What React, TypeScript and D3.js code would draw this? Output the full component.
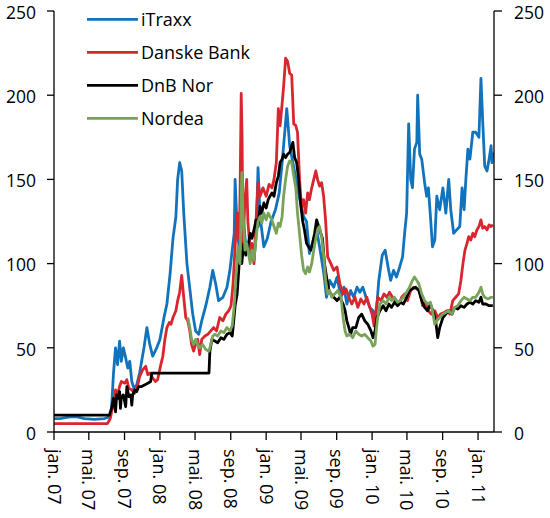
import React from 'react';
import * as d3 from 'd3';

type Point = [string, number];

const seriesNames = ['iTraxx', 'Danske Bank', 'DnB Nor', 'Nordea'];
const seriesColors = ['#1273bd', '#d9262e', '#000000', '#7aa35a'];

const itraxx: Point[] = [
  ['2007-01-01', 8], ['2007-01-21', 8], ['2007-02-25', 9], ['2007-03-22', 9], ['2007-04-16', 8],
  ['2007-05-20', 7.5], ['2007-06-24', 8], ['2007-07-11', 9], ['2007-07-18', 13], ['2007-07-25', 35],
  ['2007-08-01', 50], ['2007-08-08', 40], ['2007-08-15', 54], ['2007-08-21', 42], ['2007-08-28', 50],
  ['2007-09-05', 44], ['2007-09-12', 38], ['2007-09-19', 42], ['2007-09-26', 30], ['2007-10-03', 26],
  ['2007-10-13', 28], ['2007-10-23', 35], ['2007-11-07', 50], ['2007-11-17', 62], ['2007-11-27', 52],
  ['2007-12-07', 45], ['2007-12-21', 50], ['2008-01-01', 55], ['2008-01-15', 68], ['2008-01-25', 76],
  ['2008-02-05', 94], ['2008-02-15', 115], ['2008-02-25', 128], ['2008-03-02', 150], ['2008-03-09', 160],
  ['2008-03-16', 155], ['2008-03-23', 130], ['2008-04-03', 100], ['2008-04-13', 85], ['2008-04-23', 70],
  ['2008-05-03', 60], ['2008-05-14', 58], ['2008-05-24', 66], ['2008-06-07', 75], ['2008-06-21', 86],
  ['2008-07-01', 96], ['2008-07-11', 88], ['2008-07-21', 78], ['2008-08-05', 80], ['2008-08-19', 86],
  ['2008-08-29', 96], ['2008-09-06', 108], ['2008-09-13', 118], ['2008-09-16', 150], ['2008-09-23', 120],
  ['2008-10-03', 105], ['2008-10-13', 130], ['2008-10-23', 110], ['2008-11-07', 106], ['2008-11-20', 102],
  ['2008-11-27', 115], ['2008-12-04', 157], ['2008-12-11', 128], ['2008-12-24', 110], ['2009-01-05', 115],
  ['2009-01-18', 125], ['2009-02-02', 132], ['2009-02-15', 142], ['2009-02-25', 160], ['2009-03-06', 178],
  ['2009-03-13', 192], ['2009-03-23', 170], ['2009-04-03', 160], ['2009-04-16', 148], ['2009-04-27', 138],
  ['2009-05-10', 128], ['2009-05-20', 125], ['2009-05-30', 106], ['2009-06-14', 115], ['2009-06-24', 120],
  ['2009-07-04', 110], ['2009-07-18', 95], ['2009-07-28', 80], ['2009-08-08', 90], ['2009-08-22', 86],
  ['2009-09-02', 92], ['2009-09-16', 80], ['2009-09-26', 86], ['2009-10-06', 76], ['2009-10-19', 84],
  ['2009-10-30', 80], ['2009-11-10', 86], ['2009-11-20', 83], ['2009-11-30', 86], ['2009-12-11', 80],
  ['2009-12-24', 74], ['2010-01-04', 72], ['2010-01-14', 68], ['2010-01-24', 90], ['2010-02-05', 105],
  ['2010-02-15', 108], ['2010-02-25', 98], ['2010-03-06', 90], ['2010-03-16', 96], ['2010-03-26', 92],
  ['2010-04-06', 98], ['2010-04-16', 104], ['2010-04-23', 118], ['2010-04-30', 130], ['2010-05-07', 183],
  ['2010-05-14', 150], ['2010-05-20', 145], ['2010-05-27', 168], ['2010-06-04', 172], ['2010-06-07', 200],
  ['2010-06-14', 165], ['2010-06-21', 162], ['2010-07-01', 148], ['2010-07-08', 140], ['2010-07-14', 145],
  ['2010-07-21', 128], ['2010-07-28', 110], ['2010-08-05', 114], ['2010-08-12', 140], ['2010-08-22', 132],
  ['2010-09-02', 145], ['2010-09-12', 130], ['2010-09-22', 150], ['2010-09-29', 132], ['2010-10-09', 118],
  ['2010-10-19', 120], ['2010-10-30', 122], ['2010-11-07', 145], ['2010-11-14', 132], ['2010-11-20', 150],
  ['2010-11-27', 168], ['2010-12-04', 162], ['2010-12-14', 178], ['2010-12-24', 178], ['2011-01-04', 175],
  ['2011-01-11', 210], ['2011-01-17', 185], ['2011-01-24', 158], ['2011-02-01', 155], ['2011-02-08', 162],
  ['2011-02-15', 170], ['2011-02-18', 160], ['2011-02-21', 166],
];

const danske: Point[] = [
  ['2007-01-01', 5], ['2007-06-07', 5], ['2007-07-04', 5], ['2007-07-14', 8], ['2007-07-25', 18],
  ['2007-08-01', 25], ['2007-08-08', 22], ['2007-08-15', 27], ['2007-08-21', 30], ['2007-09-02', 29],
  ['2007-09-09', 31], ['2007-09-16', 26], ['2007-09-26', 25], ['2007-10-06', 23], ['2007-10-13', 25],
  ['2007-10-23', 33], ['2007-11-03', 37], ['2007-11-13', 39], ['2007-11-20', 34], ['2007-11-27', 35],
  ['2007-12-07', 32], ['2007-12-17', 30], ['2007-12-24', 31], ['2008-01-04', 40], ['2008-01-11', 45],
  ['2008-01-18', 55], ['2008-01-25', 62], ['2008-02-02', 65], ['2008-02-08', 64], ['2008-02-15', 68],
  ['2008-02-25', 72], ['2008-03-02', 78], ['2008-03-09', 83], ['2008-03-16', 93], ['2008-03-23', 80],
  ['2008-03-30', 68], ['2008-04-06', 66], ['2008-04-13', 60], ['2008-04-19', 52], ['2008-04-26', 48],
  ['2008-05-03', 52], ['2008-05-10', 55], ['2008-05-17', 46], ['2008-05-24', 55], ['2008-06-04', 57],
  ['2008-06-14', 58], ['2008-06-24', 60], ['2008-07-04', 62], ['2008-07-14', 60], ['2008-07-25', 68],
  ['2008-08-05', 66], ['2008-08-15', 70], ['2008-08-25', 72], ['2008-09-02', 75], ['2008-09-09', 88],
  ['2008-09-16', 110], ['2008-09-23', 130], ['2008-09-30', 115], ['2008-10-03', 140], ['2008-10-07', 201],
  ['2008-10-10', 175], ['2008-10-13', 110], ['2008-10-20', 138], ['2008-10-26', 150], ['2008-10-30', 125],
  ['2008-11-07', 108], ['2008-11-13', 112], ['2008-11-20', 100], ['2008-11-27', 125], ['2008-12-04', 148],
  ['2008-12-11', 140], ['2008-12-21', 145], ['2009-01-01', 140], ['2009-01-11', 147], ['2009-01-21', 145],
  ['2009-01-28', 150], ['2009-02-05', 160], ['2009-02-12', 192], ['2009-02-18', 182], ['2009-02-25', 195],
  ['2009-03-02', 205], ['2009-03-09', 222], ['2009-03-16', 220], ['2009-03-23', 213], ['2009-03-30', 212],
  ['2009-04-06', 183], ['2009-04-13', 182], ['2009-04-19', 178], ['2009-04-26', 150], ['2009-05-03', 133],
  ['2009-05-10', 138], ['2009-05-17', 130], ['2009-05-24', 142], ['2009-05-30', 138], ['2009-06-07', 145],
  ['2009-06-14', 150], ['2009-06-21', 155], ['2009-06-27', 150], ['2009-07-04', 146], ['2009-07-11', 148],
  ['2009-07-18', 140], ['2009-07-25', 125], ['2009-08-01', 104], ['2009-08-12', 100], ['2009-08-22', 96],
  ['2009-09-02', 98], ['2009-09-12', 88], ['2009-09-23', 82], ['2009-10-03', 85], ['2009-10-13', 80],
  ['2009-10-23', 76], ['2009-11-03', 80], ['2009-11-13', 74], ['2009-11-23', 79], ['2009-12-04', 76],
  ['2009-12-14', 80], ['2009-12-24', 74], ['2010-01-01', 70], ['2010-01-08', 63], ['2010-01-14', 72],
  ['2010-01-21', 80], ['2010-02-01', 78], ['2010-02-11', 82], ['2010-02-21', 80], ['2010-03-02', 83],
  ['2010-03-12', 80], ['2010-03-22', 78], ['2010-04-03', 76], ['2010-04-13', 80], ['2010-04-23', 82],
  ['2010-05-03', 78], ['2010-05-14', 84], ['2010-05-24', 86], ['2010-06-04', 85], ['2010-06-14', 84],
  ['2010-06-24', 75], ['2010-07-04', 77], ['2010-07-14', 72], ['2010-07-24', 70], ['2010-08-05', 72],
  ['2010-08-15', 68], ['2010-08-25', 70], ['2010-09-06', 71], ['2010-09-16', 72], ['2010-09-26', 70],
  ['2010-10-06', 78], ['2010-10-16', 80], ['2010-10-26', 82], ['2010-11-03', 90], ['2010-11-10', 100],
  ['2010-11-17', 108], ['2010-11-24', 112], ['2010-11-30', 116], ['2010-12-07', 114], ['2010-12-14', 118],
  ['2010-12-21', 116], ['2010-12-28', 120], ['2011-01-04', 122], ['2011-01-11', 126], ['2011-01-17', 121],
  ['2011-01-24', 122], ['2011-02-01', 120], ['2011-02-08', 123], ['2011-02-15', 122], ['2011-02-21', 123],
];

const dnbNor: Point[] = [
  ['2007-01-01', 10], ['2007-07-11', 10], ['2007-07-18', 14], ['2007-07-25', 20], ['2007-08-01', 12],
  ['2007-08-05', 22], ['2007-08-11', 20], ['2007-08-15', 24], ['2007-08-18', 14], ['2007-08-21', 21],
  ['2007-08-28', 22], ['2007-09-05', 15], ['2007-09-09', 27], ['2007-09-16', 21], ['2007-09-23', 22],
  ['2007-09-26', 16], ['2007-09-29', 22], ['2007-10-06', 25], ['2007-10-13', 24], ['2007-10-20', 27],
  ['2007-10-30', 27], ['2007-11-10', 28], ['2007-11-20', 29], ['2007-11-30', 30], ['2007-12-04', 35],
  ['2008-06-18', 35], ['2008-06-21', 48], ['2008-06-28', 55], ['2008-07-08', 54], ['2008-07-18', 53],
  ['2008-07-29', 56], ['2008-08-08', 55], ['2008-08-19', 58], ['2008-08-29', 59], ['2008-09-06', 57],
  ['2008-09-09', 62], ['2008-09-16', 75], ['2008-09-23', 82], ['2008-09-30', 100], ['2008-10-03', 108],
  ['2008-10-09', 100], ['2008-10-16', 112], ['2008-10-23', 105], ['2008-10-30', 110], ['2008-11-07', 118],
  ['2008-11-13', 115], ['2008-11-20', 120], ['2008-11-27', 126], ['2008-12-04', 122], ['2008-12-11', 134],
  ['2008-12-17', 130], ['2008-12-24', 136], ['2009-01-01', 133], ['2009-01-08', 138], ['2009-01-14', 140],
  ['2009-01-21', 142], ['2009-01-28', 140], ['2009-02-05', 148], ['2009-02-12', 152], ['2009-02-18', 160],
  ['2009-02-25', 162], ['2009-03-02', 165], ['2009-03-09', 163], ['2009-03-16', 165], ['2009-03-23', 166],
  ['2009-03-30', 170], ['2009-04-03', 172], ['2009-04-09', 163], ['2009-04-16', 160], ['2009-04-23', 150],
  ['2009-04-30', 135], ['2009-05-07', 125], ['2009-05-13', 120], ['2009-05-20', 112], ['2009-05-27', 110],
  ['2009-06-04', 108], ['2009-06-10', 112], ['2009-06-17', 118], ['2009-06-24', 126], ['2009-07-01', 122],
  ['2009-07-08', 118], ['2009-07-14', 115], ['2009-07-21', 100], ['2009-07-28', 92], ['2009-08-05', 84],
  ['2009-08-12', 82], ['2009-08-22', 80], ['2009-09-02', 78], ['2009-09-12', 80], ['2009-09-23', 76],
  ['2009-09-30', 72], ['2009-10-06', 66], ['2009-10-13', 62], ['2009-10-19', 58], ['2009-10-26', 62],
  ['2009-11-06', 62], ['2009-11-16', 68], ['2009-11-26', 70], ['2009-12-07', 66], ['2009-12-17', 64],
  ['2009-12-28', 60], ['2010-01-04', 56], ['2010-01-11', 60], ['2010-01-18', 68], ['2010-01-28', 72],
  ['2010-02-08', 75], ['2010-02-18', 72], ['2010-02-28', 76], ['2010-03-09', 74], ['2010-03-19', 77],
  ['2010-03-30', 75], ['2010-04-09', 77], ['2010-04-19', 76], ['2010-04-30', 80], ['2010-05-10', 84],
  ['2010-05-20', 85], ['2010-05-31', 86], ['2010-06-11', 84], ['2010-06-21', 78], ['2010-07-01', 74],
  ['2010-07-11', 72], ['2010-07-21', 76], ['2010-08-02', 70], ['2010-08-08', 66], ['2010-08-15', 56],
  ['2010-08-22', 62], ['2010-09-02', 68], ['2010-09-12', 70], ['2010-09-22', 72], ['2010-10-03', 70],
  ['2010-10-13', 74], ['2010-10-23', 73], ['2010-11-03', 75], ['2010-11-14', 74], ['2010-11-24', 76],
  ['2010-12-04', 77], ['2010-12-14', 76], ['2010-12-24', 78], ['2011-01-04', 77], ['2011-01-11', 80],
  ['2011-01-17', 76], ['2011-01-28', 76], ['2011-02-08', 75], ['2011-02-21', 75],
];

const nordea: Point[] = [
  ['2008-04-06', 68], ['2008-04-13', 62], ['2008-04-19', 55], ['2008-04-26', 52], ['2008-05-03', 55],
  ['2008-05-10', 52], ['2008-05-17', 50], ['2008-05-27', 52], ['2008-06-07', 49], ['2008-06-18', 48],
  ['2008-06-24', 52], ['2008-07-01', 57], ['2008-07-08', 58], ['2008-07-18', 57], ['2008-07-29', 60],
  ['2008-08-08', 59], ['2008-08-19', 62], ['2008-08-29', 60], ['2008-09-06', 63], ['2008-09-13', 75],
  ['2008-09-20', 95], ['2008-09-26', 110], ['2008-10-03', 100], ['2008-10-09', 154], ['2008-10-13', 130],
  ['2008-10-20', 108], ['2008-10-26', 112], ['2008-11-07', 100], ['2008-11-13', 108], ['2008-11-20', 102],
  ['2008-11-27', 115], ['2008-12-04', 125], ['2008-12-11', 128], ['2008-12-17', 124], ['2008-12-24', 130],
  ['2009-01-01', 126], ['2009-01-08', 130], ['2009-01-14', 128], ['2009-01-21', 126], ['2009-01-28', 122],
  ['2009-02-05', 118], ['2009-02-12', 124], ['2009-02-18', 122], ['2009-02-25', 128], ['2009-03-02', 140],
  ['2009-03-09', 150], ['2009-03-16', 158], ['2009-03-23', 161], ['2009-03-30', 160], ['2009-04-06', 152],
  ['2009-04-13', 145], ['2009-04-19', 130], ['2009-04-26', 118], ['2009-05-03', 105], ['2009-05-10', 96],
  ['2009-05-17', 94], ['2009-05-24', 98], ['2009-05-30', 95], ['2009-06-07', 100], ['2009-06-14', 108],
  ['2009-06-21', 115], ['2009-06-27', 120], ['2009-07-04', 122], ['2009-07-11', 116], ['2009-07-18', 105],
  ['2009-07-25', 90], ['2009-08-01', 82], ['2009-08-08', 84], ['2009-08-15', 80], ['2009-08-25', 82],
  ['2009-09-05', 84], ['2009-09-16', 80], ['2009-09-23', 68], ['2009-09-30', 60], ['2009-10-06', 57],
  ['2009-10-16', 58], ['2009-10-26', 56], ['2009-11-06', 60], ['2009-11-16', 58], ['2009-11-26', 57],
  ['2009-12-07', 58], ['2009-12-17', 56], ['2009-12-28', 54], ['2010-01-04', 51], ['2010-01-11', 52],
  ['2010-01-18', 65], ['2010-01-28', 76], ['2010-02-08', 78], ['2010-02-18', 76], ['2010-02-28', 80],
  ['2010-03-09', 78], ['2010-03-19', 80], ['2010-03-30', 77], ['2010-04-09', 78], ['2010-04-19', 80],
  ['2010-04-30', 83], ['2010-05-10', 86], ['2010-05-20', 90], ['2010-05-27', 92], ['2010-06-04', 90],
  ['2010-06-11', 88], ['2010-06-21', 82], ['2010-07-01', 78], ['2010-07-11', 76], ['2010-07-21', 77],
  ['2010-07-28', 72], ['2010-08-05', 64], ['2010-08-12', 66], ['2010-08-22', 68], ['2010-09-02', 70],
  ['2010-09-12', 71], ['2010-09-22', 72], ['2010-10-03', 70], ['2010-10-13', 74], ['2010-10-23', 75],
  ['2010-11-03', 78], ['2010-11-14', 80], ['2010-11-24', 79], ['2010-12-04', 78], ['2010-12-14', 80],
  ['2010-12-24', 80], ['2011-01-04', 83], ['2011-01-11', 86], ['2011-01-17', 82], ['2011-01-24', 80],
  ['2011-02-04', 79], ['2011-02-15', 80], ['2011-02-21', 80],
];

const yTicks = [0, 50, 100, 150, 200, 250];
const monthAbbr = ['jan.', 'feb.', 'mar.', 'apr.', 'mai.', 'jun.', 'jul.', 'aug.', 'sep.', 'okt.', 'nov.', 'des.'];

const W = 550;
const H = 518;
const FONT = '"Open Sans", sans-serif';

const App: React.FC = () => {
  const parse = d3.timeParse('%Y-%m-%d');
  const start = new Date(2007, 0, 1);
  const end = new Date(2011, 1, 25);

  const x = d3.scaleTime().domain([start, end]).range([54, 494]);
  const y = d3.scaleLinear().domain([0, 250]).range([432, 11]);

  const line = d3.line<Point>()
    .x(d => x(parse(d[0]) as Date))
    .y(d => y(d[1]));

  const allSeries = [itraxx, danske, dnbNor, nordea];
  const xTicks = d3.timeMonth.every(4)!.range(start, end);
  const tickLabel = (d: Date) => `${monthAbbr[d.getMonth()]} ${d3.timeFormat('%y')(d)}`;

  const [x0, x1] = x.range();
  const [yBottom, yTop] = y.range();

  return (
    <svg width={W} height={H} style={{ position: 'absolute', left: 0, top: 0, background: '#fff' }}
      fontFamily={FONT} fontSize={18}>
      {/* lines */}
      {allSeries.map((s, i) => (
        <path key={seriesNames[i]} d={line(s) ?? ''} fill="none" stroke={seriesColors[i]}
          strokeWidth={2.8} strokeLinejoin="round" />
      ))}

      {/* axes */}
      <g stroke="#000" strokeWidth={1.3} fill="none">
        <line x1={x0} x2={x0} y1={yTop} y2={yBottom} />
        <line x1={x1} x2={x1} y1={yTop} y2={yBottom} />
        <line x1={x0} x2={x1} y1={yBottom} y2={yBottom} />
        {yTicks.map(t => (
          <g key={t}>
            <line x1={x0 - 7} x2={x0} y1={y(t)} y2={y(t)} />
            <line x1={x1} x2={x1 + 8} y1={y(t)} y2={y(t)} />
          </g>
        ))}
        {xTicks.map(d => (
          <line key={d.toISOString()} x1={x(d)} x2={x(d)} y1={yBottom} y2={yBottom + 8} />
        ))}
      </g>

      {yTicks.map(t => (
        <g key={`l${t}`} fontSize={17.5}>
          <text x={36} y={y(t) + 7.8} textAnchor="end">{t}</text>
          <text x={514} y={y(t) + 7.8} textAnchor="start">{t}</text>
        </g>
      ))}

      {xTicks.map(d => (
        <text key={`t${d.toISOString()}`} transform={`translate(${x(d)},${yBottom + 17}) rotate(90)`}
          dy="0.36em" textAnchor="start">{tickLabel(d)}</text>
      ))}

      {/* legend */}
      {seriesNames.map((name, i) => {
        const ly = 19.3 + i * 33;
        return (
          <g key={`lg${name}`}>
            <line x1={87} x2={138} y1={ly} y2={ly} stroke={seriesColors[i]} strokeWidth={2.8} />
            <text x={141} y={ly} dy="0.38em">{name}</text>
          </g>
        );
      })}
    </svg>
  );
};

export default App;
